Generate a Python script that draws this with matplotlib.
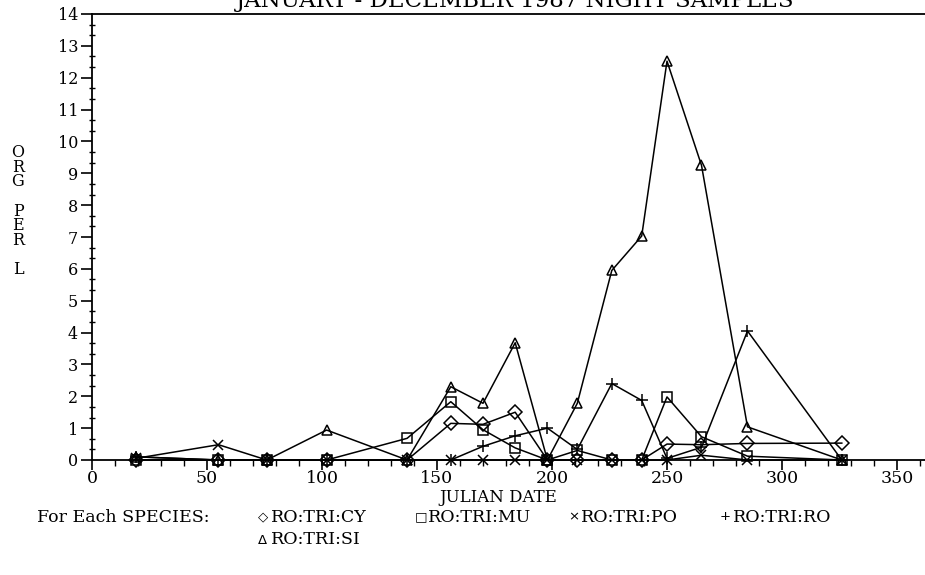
import matplotlib
matplotlib.use("Agg")
import matplotlib.pyplot as plt
from matplotlib.ticker import MultipleLocator

# ---- data ----
days = [19, 55, 76, 102, 137, 156, 170, 184, 198, 211, 226, 239, 250, 265, 285, 326]
cy = [0, 0, 0, 0, 0, 1.15, 1.12, 1.5, 0, 0, 0, 0, 0.5, 0.48, 0.52, 0.53]
mu = [0, 0, 0, 0, 0.68, 1.83, 0.95, 0.38, 0, 0.3, 0, 0, 1.98, 0.73, 0.12, 0]
po = [0.05, 0.48, 0, 0, 0, 0, 0, 0, 0, 0, 0, 0, 0, 0.15, 0, 0]
ro = [0.1, 0, 0, 0, 0, 0, 0.43, 0.76, 1.0, 0.33, 2.4, 1.87, 0.05, 0.4, 4.05, 0]
si = [0.1, 0, 0, 0.94, 0, 2.3, 1.78, 3.68, 0, 1.78, 5.95, 7.03, 12.52, 9.25, 1.04, 0]

species = ["RO:TRI:CY", "RO:TRI:MU", "RO:TRI:PO", "RO:TRI:RO", "RO:TRI:SI"]
series = [cy, mu, po, ro, si]
markers = ["D", "s", "x", "+", "^"]
msizes = [7, 6.5, 7, 8, 7.5]
legend_glyphs = ["\u25C7", "\u25A1", "\u00D7", "+", "\u0394"]

x_ticks = [0, 50, 100, 150, 200, 250, 300, 350]
y_ticks = list(range(0, 15))

title = "JANUARY - DECEMBER 1987 NIGHT SAMPLES"
xlabel = "JULIAN DATE"
ylabel_letters = ["O", "R", "G", "", "P", "E", "R", "", "L"]

W, H = 925, 575
fig = plt.figure(figsize=(W / 100, H / 100), dpi=100)
serif = ["DejaVu Serif"]

x0px, y0px, ytop = 92, 460, 14
ax = fig.add_axes([x0px / W, (H - y0px) / H, (W - x0px) / W, (y0px - ytop) / H])
ax.set_xlim(0, (W - x0px) / 2.3)
ax.set_ylim(0, 14)

for vals, m, ms in zip(series, markers, msizes):
    ax.plot(days, vals, color="black", lw=1.1, marker=m, ms=ms,
            mfc="none", mec="black", mew=1.1, clip_on=False, zorder=3)

for s in ["top", "left", "bottom"]:
    ax.spines[s].set_linewidth(1.3)
ax.spines["right"].set_visible(False)

ax.set_xticks(x_ticks)
ax.xaxis.set_minor_locator(MultipleLocator(10))
ax.set_yticks(y_ticks)
ax.yaxis.set_minor_locator(MultipleLocator(1 / 3))
ax.tick_params(axis="x", which="major", direction="out", length=7, width=1.2,
               labelsize=12.5, pad=0)
ax.tick_params(axis="x", which="minor", direction="out", length=4, width=1.0)
ax.tick_params(axis="y", which="major", direction="out", length=8, width=1.2,
               labelsize=11.5, pad=2)
ax.tick_params(axis="y", which="minor", direction="inout", length=4, width=1.0)
for lab in ax.get_xticklabels() + ax.get_yticklabels():
    lab.set_family(serif)

# title (partially cut at top, as in reference)
fig.text(515 / W, 1 - 7 / H, title, ha="center", va="baseline",
         fontsize=16.5, family=serif)

# x label
fig.text(498 / W, 1 - 497 / H, xlabel, ha="center", va="center",
         fontsize=12, family=serif)

# stacked y label (one multi-line text)
fig.text(18 / W, 1 - 211 / H, "\n".join(ylabel_letters), ha="center",
         va="center", ma="center", fontsize=11.5, family=serif, linespacing=0.82)

# legend
row1 = 517
fig.text(37 / W, 1 - row1 / H, "For Each SPECIES:", ha="left", va="center",
         fontsize=12.5, family=serif)
pos = [(258, row1), (415, row1), (568, row1), (720, row1), (258, row1 + 23)]
for (px, py), g, name in zip(pos, legend_glyphs, species):
    fig.text(px / W, 1 - py / H, g, ha="left", va="center", fontsize=9.5,
             family=["DejaVu Sans"])
    fig.text((px + 13) / W, 1 - py / H, name, ha="left", va="center",
             fontsize=12.5, family=serif)

fig.savefig("out.png", dpi=100)
